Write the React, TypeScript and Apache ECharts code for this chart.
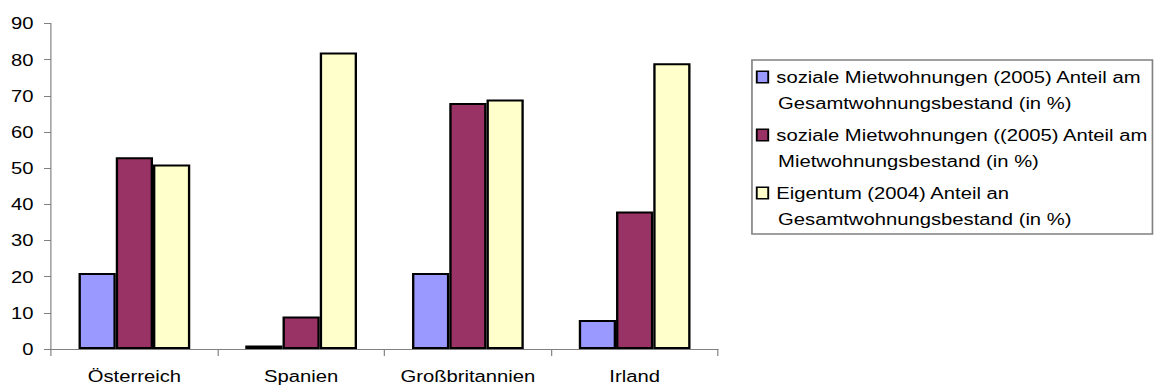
import React, { useEffect, useRef } from "react";
import * as echarts from "echarts";

const categories = ["Österreich", "Spanien", "Großbritannien", "Irland"];
const sozialGesamt = [21, 1, 21, 8];
const sozialMiet = [53, 9, 68, 38];
const eigentum = [51, 82, 69, 79];
const seriesNames = [
  "soziale Mietwohnungen (2005) Anteil am Gesamtwohnungsbestand (in %)",
  "soziale Mietwohnungen ((2005) Anteil am Mietwohnungsbestand (in %)",
  "Eigentum (2004) Anteil an Gesamtwohnungsbestand (in %)",
];
const legendLines = [
  ["soziale Mietwohnungen (2005) Anteil am", "Gesamtwohnungsbestand (in %)"],
  ["soziale Mietwohnungen ((2005) Anteil am", "Mietwohnungsbestand (in %)"],
  ["Eigentum (2004) Anteil an", "Gesamtwohnungsbestand (in %)"],
];
const colors = ["#9999FF", "#993366", "#FFFFCC"];
const yMin = 0;
const yMax = 90;
const yInterval = 10;

const SX = 1.17;
const W = Math.round(1155 / SX);
const H = 388;
const FONT = "'Liberation Sans', Arial, Helvetica, sans-serif";
const FS = 17.3;

export default function App() {
  const ref = useRef<HTMLDivElement>(null);
  useEffect(() => {
    if (!ref.current) return;
    const chart = echarts.init(ref.current, undefined, { renderer: "svg" });
    const dataArrays = [sozialGesamt, sozialMiet, eigentum];
    const rich: any = {
      g: { width: 7.7, height: 10 },
      ind: { width: 17.4, height: 10 },
      t: { fontSize: FS, fontFamily: FONT, color: "#000", lineHeight: 26 },
    };
    colors.forEach((c, i) => {
      rich["i" + i] = {
        width: 8.2,
        height: 10,
        backgroundColor: c,
        borderColor: "#000",
        borderWidth: 1.6,
      };
    });
    chart.setOption({
      animation: false,
      color: colors,
      textStyle: { fontFamily: FONT },
      grid: {
        left: 43.6,
        right: W - 613.7,
        top: 23.5,
        bottom: H - 349,
        containLabel: false,
      },
      xAxis: {
        type: "category",
        data: categories,
        boundaryGap: true,
        axisLine: { show: true, lineStyle: { color: "#808080", width: 1 } },
        axisTick: { show: true, length: 7, alignWithLabel: false, lineStyle: { color: "#808080" } },
        axisLabel: { color: "#000", fontSize: FS, fontFamily: FONT, margin: 19, interval: 0 },
        splitLine: { show: false },
      },
      yAxis: {
        type: "value",
        min: yMin,
        max: yMax,
        interval: yInterval,
        axisLine: { show: true, lineStyle: { color: "#808080", width: 1 } },
        axisTick: { show: true, length: 6, lineStyle: { color: "#808080" } },
        axisLabel: { color: "#000", fontSize: FS, fontFamily: FONT, margin: 15 },
        splitLine: { show: false },
      },
      legend: {
        orient: "vertical",
        left: 642.6,
        top: 64,
        padding: 0,
        itemGap: 6,
        itemWidth: 0,
        itemHeight: 0,
        icon: "none",
        selectedMode: false,
        data: seriesNames,
        formatter: (name: string) => {
          const i = seriesNames.indexOf(name);
          const [a, b] = legendLines[i];
          return `{i${i}|}{g|}{t|${a}}\n{ind|}{t|${b}}`;
        },
        textStyle: { fontSize: FS, fontFamily: FONT, color: "#000", lineHeight: 26, rich },
      },
      graphic: [
        {
          type: "rect",
          shape: { x: 642.7, y: 60, width: 342.3, height: 174 },
          style: { fill: "none", stroke: "#808080", lineWidth: 1.4 },
          silent: true,
        },
      ],
      series: dataArrays.map((d, i) => ({
        name: seriesNames[i],
        type: "bar",
        data: d,
        barGap: "0%",
        barCategoryGap: "33%",
        itemStyle: { color: colors[i], borderColor: "#000", borderWidth: 2 },
      })),
    });
    return () => chart.dispose();
  }, []);
  return (
    <div
      ref={ref}
      style={{
        position: "absolute",
        left: 0,
        top: 0,
        width: W + "px",
        height: H + "px",
        transform: `scaleX(${SX})`,
        transformOrigin: "0 0",
        background: "#fff",
      }}
    />
  );
}
